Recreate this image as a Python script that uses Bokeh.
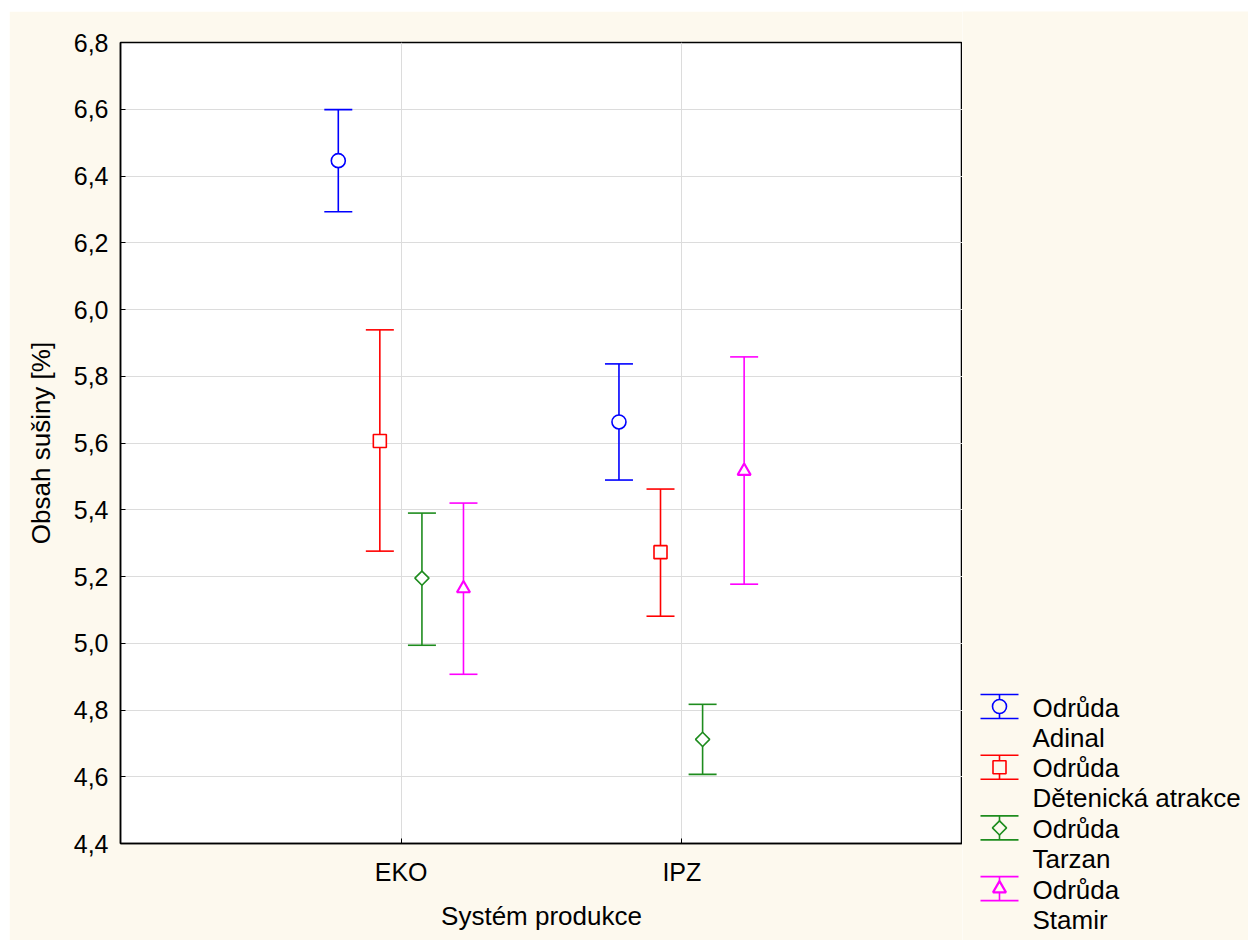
import numpy as np
from bokeh.plotting import figure
from bokeh.layouts import row, column
from bokeh.models import Range1d, FixedTicker, Label
from bokeh.embed import file_html
from bokeh.resources import INLINE

# ---- data ----
systems = ["EKO", "IPZ"]
varieties = ["Adinal", "Dětenická atrakce", "Tarzan", "Stamir"]
mean_adinal = [6.446, 5.663]
low_adinal = [6.293, 5.489]
up_adinal = [6.599, 5.837]
mean_detenicka = [5.606, 5.273]
low_detenicka = [5.276, 5.081]
up_detenicka = [5.939, 5.462]
mean_tarzan = [5.195, 4.712]
low_tarzan = [4.994, 4.607]
up_tarzan = [5.390, 4.817]
mean_stamir = [5.164, 5.516]
low_stamir = [4.907, 5.177]
up_stamir = [5.420, 5.858]
y_ticks = [4.4, 4.6, 4.8, 5.0, 5.2, 5.4, 5.6, 5.8, 6.0, 6.2, 6.4, 6.6, 6.8]

series = [
    (varieties[0], mean_adinal, low_adinal, up_adinal),
    (varieties[1], mean_detenicka, low_detenicka, up_detenicka),
    (varieties[2], mean_tarzan, low_tarzan, up_tarzan),
    (varieties[3], mean_stamir, low_stamir, up_stamir),
]

# ---- styles ----
BG = "#FDF9EE"
FONT = "Liberation Sans"
colors = ["#0000FF", "#FF0000", "#1E8C1E", "#FF00FF"]
offsets = [-0.224, -0.076, 0.074, 0.222]
markers = [("circle", 14, 0), ("square", 13, 0), ("square", 10, np.pi / 4), ("triangle", 13, 0)]

p = figure(width=953, height=929, output_backend="svg", toolbar_location=None,
           x_range=Range1d(0, 3), y_range=Range1d(4.4, 6.8),
           min_border_left=111, min_border_right=0, min_border_top=31, min_border_bottom=97)
p.border_fill_color = BG
p.background_fill_color = "white"
p.outline_line_color = "black"
p.outline_line_width = 1.5

p.xaxis.ticker = FixedTicker(ticks=[1, 2])
p.xaxis.major_label_overrides = {1: systems[0], 2: systems[1]}
p.yaxis.ticker = FixedTicker(ticks=y_ticks)
p.yaxis.major_label_overrides = {t: f"{t:.1f}".replace(".", ",") for t in y_ticks}
for ax in (p.xaxis, p.yaxis):
    ax.major_tick_in = 5
    ax.major_tick_out = 0
    ax.minor_tick_line_color = None
    ax.axis_line_color = "black"
    ax.axis_line_width = 1.5
    ax.major_tick_line_color = "black"
    ax.major_label_text_font = FONT
    ax.major_label_text_font_size = "25px"
    ax.major_label_text_color = "black"
    ax.axis_label_text_font = FONT
    ax.axis_label_text_font_size = "26px"
    ax.axis_label_text_font_style = "normal"
    ax.axis_label_text_color = "black"
p.xaxis.axis_label = "Systém produkce"
p.yaxis.axis_label = "Obsah sušiny [%]"
p.xaxis.major_label_standoff = 14
p.yaxis.major_label_standoff = 12
p.xaxis.axis_label_standoff = 12
p.yaxis.axis_label_standoff = 15
p.grid.grid_line_color = "#DCDCDC"
p.grid.grid_line_width = 1

xpos = np.array([1.0, 2.0])
for (name, m, lo, up), c, off, (mk, sz, ang) in zip(series, colors, offsets, markers):
    x = xpos + off
    p.segment(x0=x, y0=lo, x1=x, y1=up, line_color=c, line_width=1.6)
    p.scatter(x=x, y=lo, marker="dash", size=28, line_color=c, line_width=1.6)
    p.scatter(x=x, y=up, marker="dash", size=28, line_color=c, line_width=1.6)
    p.scatter(x=x, y=m, marker=mk, size=sz, angle=ang, line_color=c,
              fill_color="white", line_width=2.2 if mk == "triangle" else 1.6)

# ---- legend panel ----
lg = figure(width=286, height=929, output_backend="svg", toolbar_location=None,
            x_range=Range1d(962, 1248), y_range=Range1d(940, 11),
            min_border=0, x_axis_type=None, y_axis_type=None)
lg.border_fill_color = BG
lg.background_fill_color = BG
lg.outline_line_color = None
lg.grid.visible = False

for i, ((name, m, lo, up), c, (mk, sz, ang)) in enumerate(zip(series, colors, markers)):
    yc = 706 + 60.7 * i
    lg.segment(x0=[980, 980, 999], y0=[yc - 12, yc + 12, yc - 12],
               x1=[1018, 1018, 999], y1=[yc - 12, yc + 12, yc + 12],
               line_color=c, line_width=1.6)
    lg.scatter(x=[999], y=[yc], marker=mk, size=sz, angle=ang, line_color=c,
               fill_color=BG, line_width=2.2 if mk == "triangle" else 1.6)
    lg.add_layout(Label(x=1032, y=yc + 1, text="Odrůda", text_font=FONT,
                        text_font_size="26px", text_baseline="middle", text_color="black"))
    lg.add_layout(Label(x=1032, y=yc + 31, text=name, text_font=FONT,
                        text_font_size="26px", text_baseline="middle", text_color="black"))

layout = row(p, column(lg), margin=(11, 0, 0, 9), spacing=0)
open("out.html", "w").write(file_html(layout, INLINE))
